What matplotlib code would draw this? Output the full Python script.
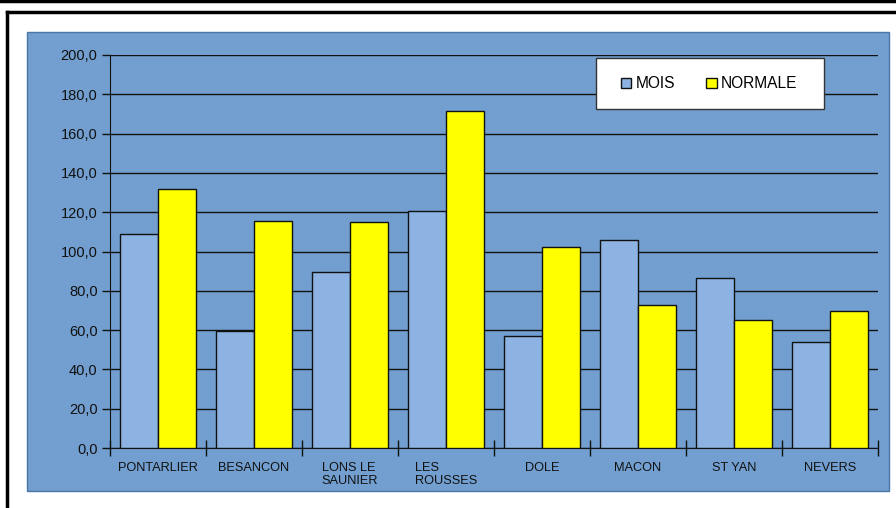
import matplotlib
matplotlib.use("Agg")
import matplotlib.pyplot as plt
import numpy as np
from matplotlib.patches import Rectangle
from matplotlib.lines import Line2D

categories = ["PONTARLIER", "BESANCON", "LONS LE\nSAUNIER", "LES\nROUSSES",
              "DOLE", "MACON", "ST YAN", "NEVERS"]
mois = [109.0, 59.5, 89.8, 120.6, 57.0, 106.0, 86.5, 54.0]
normale = [131.8, 115.5, 115.2, 171.7, 102.3, 72.8, 65.1, 69.8]
yticks = [0, 20, 40, 60, 80, 100, 120, 140, 160, 180, 200]
ytick_labels = ["0,0", "20,0", "40,0", "60,0", "80,0", "100,0", "120,0",
                "140,0", "160,0", "180,0", "200,0"]

plt.rcParams['font.family'] = ['Liberation Sans', 'DejaVu Sans']

W, H = 896, 508
fig = plt.figure(figsize=(W / 100, H / 100), dpi=100)
fig.patch.set_facecolor("white")

def fx(px):
    return px / W

def fy(py):
    return 1 - py / H

# outer frame lines
fig.add_artist(Line2D([0, 1], [fy(1), fy(1)], color="black", lw=2.5, transform=fig.transFigure))
fig.add_artist(Line2D([fx(7), 1], [fy(12), fy(12)], color="black", lw=2.5, transform=fig.transFigure))
fig.add_artist(Line2D([fx(7), fx(7)], [fy(12), 0], color="black", lw=2.5, transform=fig.transFigure))

# blue chart area
fig.add_artist(Rectangle((fx(27), fy(491)), fx(889) - fx(27), fy(32) - fy(491),
                         facecolor="#729fcf", edgecolor="#4a76a8", lw=1,
                         transform=fig.transFigure, zorder=0))

ax = fig.add_axes([fx(110), fy(448), fx(878) - fx(110), fy(55) - fy(448)])
ax.set_facecolor("none")

x = np.arange(len(categories))
w = 0.4
ax.bar(x - w / 2, mois, w, color="#8db3e2", edgecolor="#111111", lw=1.0, label="MOIS", zorder=3)
ax.bar(x + w / 2, normale, w, color="#ffff00", edgecolor="#111111", lw=1.0, label="NORMALE", zorder=3)

ax.set_xlim(-0.5, len(categories) - 0.5)
ax.set_ylim(0, 200)
ax.set_yticks(yticks)
ax.set_yticklabels(ytick_labels, fontsize=10.5, color="#111111")
ax.yaxis.grid(True, color="#111111", lw=1.0, zorder=1)
ax.set_axisbelow(True)

ax.set_xticks(np.arange(len(categories) + 1) - 0.5)
ax.set_xticklabels([])
ax.tick_params(axis="x", direction="inout", length=12, width=1, color="#111111")
ax.tick_params(axis="y", direction="out", length=6, width=1, color="#111111", pad=3)
for i, c in enumerate(categories):
    ax.text(i, -7, c, ha="center", va="top", fontsize=9.2, color="#111111",
            multialignment="left", linespacing=1.15,
            transform=ax.transData)

for s in ["top", "right"]:
    ax.spines[s].set_visible(False)
ax.spines["left"].set_color("#111111")
ax.spines["bottom"].set_color("#111111")

# legend box (drawn in figure coords) and frameless legend inside
fig.add_artist(Rectangle((fx(596), fy(109)), fx(824) - fx(596), fy(58) - fy(109),
                         facecolor="white", edgecolor="#333333", lw=1,
                         transform=fig.transFigure, zorder=5))
leg = fig.legend(*ax.get_legend_handles_labels(), loc="center left",
                 bbox_to_anchor=(fx(621), fy(84)),
                 ncol=2, fontsize=11.2, frameon=False,
                 handlelength=0.65, handleheight=0.65, handletextpad=0.3,
                 columnspacing=2.0, borderpad=0, borderaxespad=0)
leg.set_zorder(6)

fig.savefig("out.png", dpi=100)
